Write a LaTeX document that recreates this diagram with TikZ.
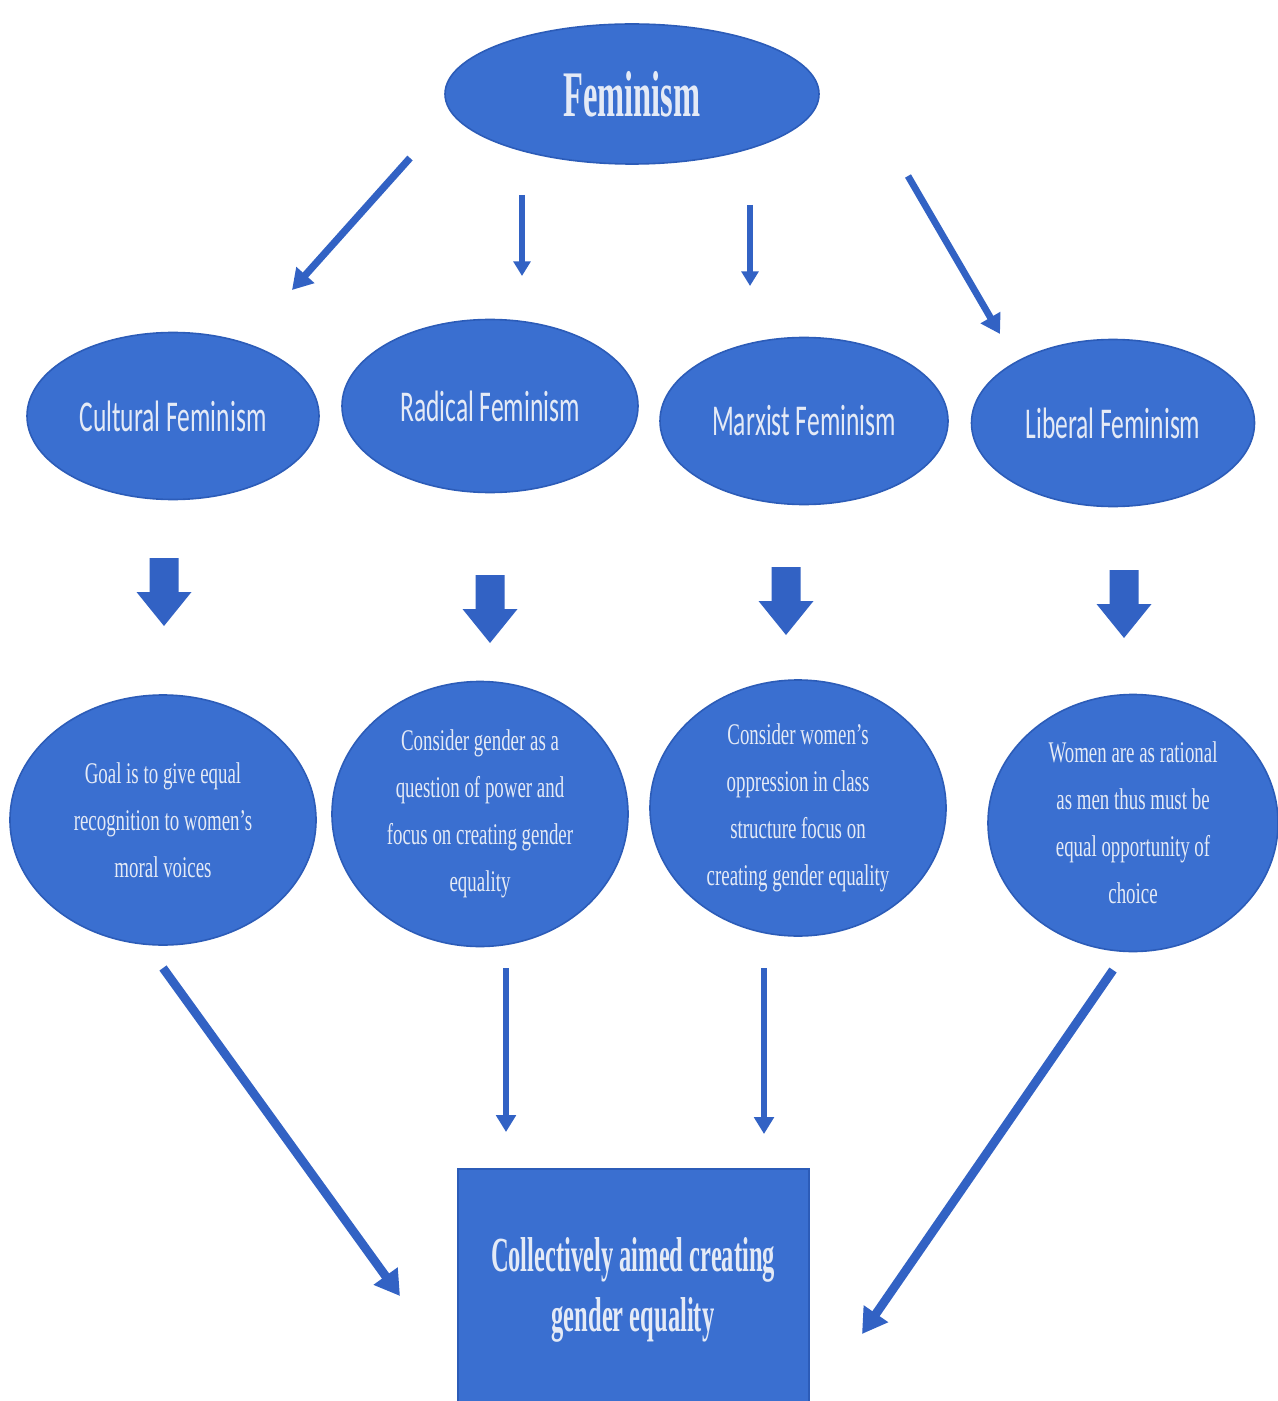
\documentclass[tikz,border=0pt]{standalone}
\usepackage{fontspec}
\usetikzlibrary{shapes.geometric,arrows.meta}
\newfontfamily\titlefont[FakeStretch=0.5]{Liberation Serif}
\newfontfamily\headfont[FakeStretch=0.58]{Carlito}
\newfontfamily\bodyfont[FakeStretch=0.63]{Liberation Serif}
\definecolor{fblue}{RGB}{58,111,208}
\definecolor{eblue}{RGB}{44,92,184}
\definecolor{ablue}{RGB}{50,98,196}
\definecolor{ftext}{RGB}{228,234,246}
\begin{document}
\begin{tikzpicture}[x=0.5pt,y=-0.5pt,
  oval/.style={ellipse,fill=fblue,draw=eblue,line width=0.8pt,inner sep=0pt,text=ftext,align=center},
  head/.style={oval,font=\headfont\fontsize{22}{26}\selectfont},
  body/.style={oval,font=\bodyfont\fontsize{15}{23.5}\selectfont},
  thin/.style={draw=ablue,line width=#1,-{Triangle[width=3.2*#1,length=2.8*#1]}},
  blockarrow/.style={fill=ablue,draw=none}]
\useasboundingbox (0,0) rectangle (1278,1401);
\fill[white] (0,0) rectangle (1278,1401);
% top
\node[oval,minimum width=187pt,minimum height=70pt,font=\titlefont\bfseries\fontsize{32.5}{36}\selectfont] (fem) at (632,94) {Feminism};
% heads
\node[head,minimum width=146pt,minimum height=83.5pt] (cult) at (173,416) {Cultural Feminism};
\node[head,minimum width=148pt,minimum height=86.5pt] (rad) at (490,406) {Radical Feminism};
\node[head,minimum width=144pt,minimum height=83.5pt] (marx) at (804,421) {Marxist Feminism};
\node[head,minimum width=141.5pt,minimum height=83.5pt] (lib) at (1113,423) {Liberal Feminism};
% bodies
\node[body,minimum width=153pt,minimum height=125pt] (goal) at (163,820) {Goal is to give equal\\recognition to women’s\\moral voices};
\node[body,minimum width=148pt,minimum height=132.5pt] (power) at (480,814) {Consider gender as a\\question of power and\\focus on creating gender\\equality};
\node[body,minimum width=148pt,minimum height=128pt] (class) at (798,808) {Consider women’s\\oppression in class\\structure focus on\\creating gender equality};
\node[body,minimum width=145pt,minimum height=128.5pt] (rational) at (1133,823) {Women are as rational\\as men thus must be\\equal opportunity of\\choice};
% box
\node[draw=eblue,fill=fblue,line width=0.8pt,minimum width=175.5pt,minimum height=130pt,anchor=north west,inner sep=0pt] (box) at (457,1168) {};
\node[text=ftext,align=center,font=\titlefont\bfseries\fontsize{24.5}{30}\selectfont] (boxtext) at (633,1290) {Collectively aimed creating\\gender equality};
% coordinates for arrows
\coordinate (a1s) at (410,158); \coordinate (a1e) at (292,290);
\coordinate (a2s) at (522,195); \coordinate (a2e) at (522,276);
\coordinate (a3s) at (750,205); \coordinate (a3e) at (750,286);
\coordinate (a4s) at (908,176); \coordinate (a4e) at (1000,334);
\coordinate (b1s) at (163,968); \coordinate (b1e) at (400,1296);
\coordinate (b2s) at (506,968); \coordinate (b2e) at (506,1132);
\coordinate (b3s) at (764,968); \coordinate (b3e) at (764,1134);
\coordinate (b4s) at (1113,970); \coordinate (b4e) at (862,1334);
\draw[thin=3.6pt] (a1s) -- (a1e);
\draw[thin=2.6pt] (a2s) -- (a2e);
\draw[thin=2.6pt] (a3s) -- (a3e);
\draw[thin=3.4pt] (a4s) -- (a4e);
\draw[thin=4.4pt] (b1s) -- (b1e);
\draw[thin=3pt] (b2s) -- (b2e);
\draw[thin=3pt] (b3s) -- (b3e);
\draw[thin=4.4pt] (b4s) -- (b4e);
% block arrows
\foreach \cx/\ty in {164/558,490/575,786/567,1124/570}{
  \fill[blockarrow] (\cx-14.5,\ty) -- (\cx+14.5,\ty) -- (\cx+14.5,\ty+34) -- (\cx+27.5,\ty+34)
    -- (\cx,\ty+68) -- (\cx-27.5,\ty+34) -- (\cx-14.5,\ty+34) -- cycle;
}
\end{tikzpicture}
\end{document}
